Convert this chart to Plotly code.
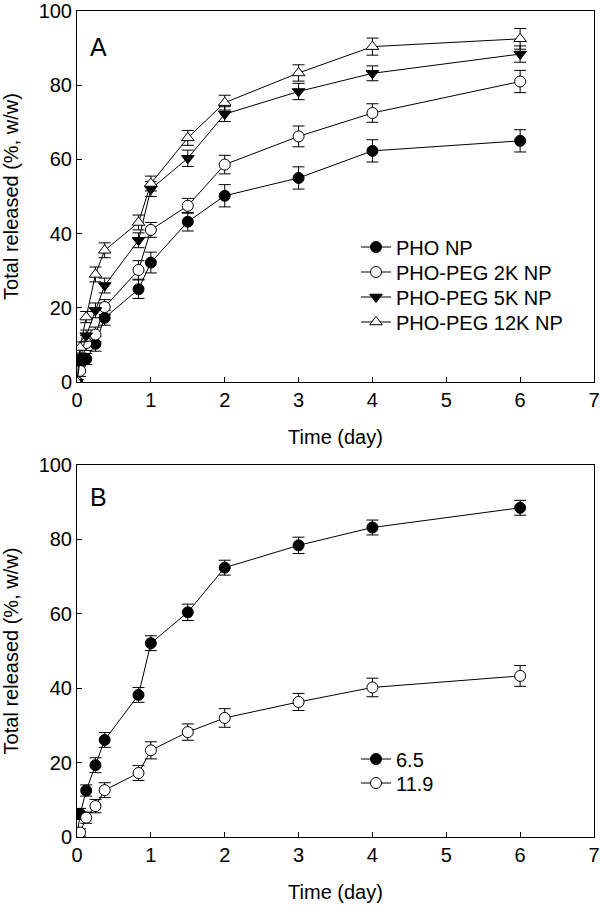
import plotly.graph_objects as go

time_day = [0, 0.042, 0.125, 0.25, 0.375, 0.833, 1, 1.5, 2, 3, 4, 6]

# Panel A
pho_np = [0, 5.8, 6.2, 10.3, 17.3, 25.0, 32.2, 43.2, 50.2, 55.0, 62.3, 65.0]
pho_np_err = [0.5, 1.5, 1.5, 2.0, 2.0, 2.5, 2.8, 2.5, 3.0, 3.0, 3.0, 3.0]
peg2k = [0, 3.0, 10.5, 12.8, 20.2, 30.2, 41.0, 47.5, 58.6, 66.2, 72.5, 81.0]
peg2k_err = [0.5, 1.5, 2.0, 2.0, 2.0, 2.5, 2.0, 2.0, 2.5, 2.8, 2.5, 3.0]
peg5k = [0, 6.0, 12.5, 19.3, 26.0, 38.2, 52.0, 60.3, 72.2, 78.3, 83.2, 88.4]
peg5k_err = [0.5, 1.5, 1.5, 2.0, 2.0, 2.0, 2.0, 2.2, 2.0, 2.2, 2.0, 2.2]
peg12k = [0, 9.3, 17.5, 29.0, 35.5, 43.0, 53.5, 65.8, 75.3, 83.3, 90.4, 92.5]
peg12k_err = [0.5, 1.5, 1.5, 2.0, 2.0, 2.0, 2.0, 2.0, 2.0, 2.2, 2.3, 2.8]

# Panel B (pH)
ph65 = [0, 6.2, 12.5, 19.3, 26.1, 38.2, 52.1, 60.4, 72.4, 78.4, 83.2, 88.5]
ph65_err = [0.5, 1.5, 1.5, 2.0, 2.0, 2.0, 2.0, 2.2, 2.0, 2.2, 2.0, 2.0]
ph119 = [0, 1.2, 5.2, 8.3, 12.6, 17.2, 23.3, 28.2, 32.0, 36.3, 40.2, 43.3]
ph119_err = [0.5, 1.0, 1.5, 1.8, 2.0, 2.0, 2.3, 2.2, 2.5, 2.3, 2.5, 2.8]

x_ticks = [0, 1, 2, 3, 4, 5, 6, 7]
y_ticks = [0, 20, 40, 60, 80, 100]

FONT = "Liberation Sans, Arial, sans-serif"
FS = 20

L, R, T, B = 77, 6, 11, 70
W, H = 600, 907
PH = H - T - B
PW = W - L - R

def ypaper(px):
    return (H - B - px) / PH

def xpaper(px):
    return (px - L) / PW

fig = go.Figure()

def add(x, y, err, name, symbol, fill, xa, ya, legend):
    fig.add_trace(go.Scatter(
        x=x, y=y, name=name, mode="lines+markers",
        xaxis=xa, yaxis=ya, legend=legend, showlegend=True,
        line=dict(color="black", width=1),
        marker=dict(symbol=symbol, size=11, color=fill,
                    line=dict(color="black", width=1)),
        error_y=dict(type="data", array=err, visible=True,
                     color="black", thickness=1, width=6),
    ))

add(time_day, pho_np, pho_np_err, "PHO NP", "circle", "black", "x", "y", "legend")
add(time_day, peg2k, peg2k_err, "PHO-PEG 2K NP", "circle", "white", "x", "y", "legend3")
add(time_day, peg5k, peg5k_err, "PHO-PEG 5K NP", "triangle-down", "black", "x", "y", "legend4")
add(time_day, peg12k, peg12k_err, "PHO-PEG 12K NP", "triangle-up", "white", "x", "y", "legend5")

add(time_day, ph65, ph65_err, "6.5", "circle", "black", "x2", "y2", "legend2")
add(time_day, ph119, ph119_err, "11.9", "circle", "white", "x2", "y2", "legend6")

axis_common = dict(
    range=[0, 7], tickvals=x_ticks, ticks="inside", ticklen=5, tickcolor="black",
    showline=True, linecolor="black", linewidth=1, mirror=True,
    showgrid=False, zeroline=False, automargin=False, ticklabeloverflow="allow",
    tickfont=dict(family=FONT, size=FS, color="black"),
)
yaxis_common = dict(
    range=[0, 100], tickvals=y_ticks, ticks="inside", ticklen=5, tickcolor="black",
    showline=True, linecolor="black", linewidth=1, mirror=True,
    showgrid=False, zeroline=False, automargin=False, ticklabeloverflow="allow",
    tickfont=dict(family=FONT, size=FS, color="black"),
)

top_dom = [ypaper(382), 1.0]
bot_dom = [0.0, ypaper(465)]

def leg(ypx):
    return dict(x=xpaper(356), y=ypaper(ypx), xanchor="left", yanchor="middle",
                bgcolor="rgba(0,0,0,0)", font=dict(family=FONT, size=FS))

fig.update_layout(
    width=W, height=H,
    margin=dict(l=L, r=R, t=T, b=B),
    paper_bgcolor="white", plot_bgcolor="white",
    showlegend=True,
    font=dict(family=FONT, size=FS, color="black"),
    xaxis=dict(axis_common, domain=[0, 1], anchor="y",
               title=dict(text="Time (day)", font=dict(family=FONT, size=FS), standoff=19)),
    yaxis=dict(yaxis_common, domain=top_dom, anchor="x",
               title=dict(text="Total released (%, w/w)", font=dict(family=FONT, size=FS), standoff=14)),
    xaxis2=dict(axis_common, domain=[0, 1], anchor="y2",
                title=dict(text="Time (day)", font=dict(family=FONT, size=FS), standoff=19)),
    yaxis2=dict(yaxis_common, domain=bot_dom, anchor="x2",
                title=dict(text="Total released (%, w/w)", font=dict(family=FONT, size=FS), standoff=14)),
    legend=leg(247),
    legend3=leg(272),
    legend4=leg(297),
    legend5=leg(322),
    legend2=leg(759),
    legend6=leg(783),
    annotations=[
        dict(text="A", x=xpaper(98), y=ypaper(47), xref="paper", yref="paper", showarrow=False,
             xanchor="center", yanchor="middle",
             font=dict(family=FONT, size=25, color="black")),
        dict(text="B", x=xpaper(98), y=ypaper(497), xref="paper", yref="paper", showarrow=False,
             xanchor="center", yanchor="middle",
             font=dict(family=FONT, size=25, color="black")),
    ],
)

fig.write_html("out.html", config={"displayModeBar": False},
               post_script="document.body.style.margin='0';")
